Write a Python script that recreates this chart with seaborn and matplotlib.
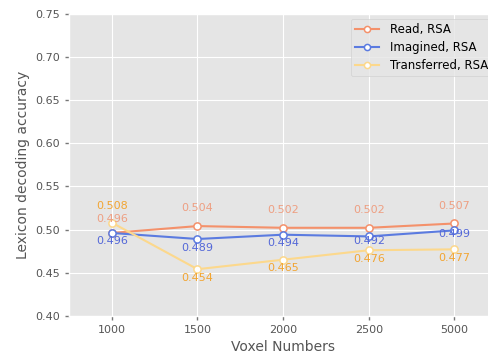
import matplotlib
matplotlib.use("Agg")
import matplotlib.pyplot as plt
import seaborn as sns
import pandas as pd

voxels = ["1000", "1500", "2000", "2500", "5000"]
read_rsa = [0.496, 0.504, 0.502, 0.502, 0.507]
imagined_rsa = [0.496, 0.489, 0.494, 0.492, 0.499]
transferred_rsa = [0.508, 0.454, 0.465, 0.476, 0.477]

series = [
    ("Read, RSA", read_rsa, "#F4916B", "#EE9F82", [9.7, 13, 12.5, 12.5, 12.5]),
    ("Imagined, RSA", imagined_rsa, "#5B7BE0", "#5468D8", [-5.9, -6.3, -5.9, -3.2, -2.9]),
    ("Transferred, RSA", transferred_rsa, "#FCD88C", "#F2A532", [12.2, -6.3, -6.3, -6.3, -6.3]),
]

plt.style.use("ggplot")
fig = plt.figure(figsize=(4.89, 3.56), dpi=100)
ax = fig.add_axes([0.141, 0.113, 0.876, 0.848])

for name, vals, color, txt_color, offs in series:
    df = pd.DataFrame({"voxels": voxels, "acc": vals})
    sns.lineplot(data=df, x="voxels", y="acc", sort=False, ax=ax, label=name,
                 color=color, marker="o", markersize=5.2, linewidth=1.5,
                 markerfacecolor="white", markeredgecolor=color, markeredgewidth=1.1)
    for i, v in enumerate(vals):
        ax.annotate(f"{v:.3f}", (i, v), xytext=(0, offs[i]), textcoords="offset points",
                    ha="center", va="center", fontsize=8, color=txt_color)

ax.set_xlim(-0.5, 4.5)
ax.set_ylim(0.40, 0.75)
ax.set_yticks([0.40, 0.45, 0.50, 0.55, 0.60, 0.65, 0.70, 0.75])
ax.tick_params(labelsize=8, labelcolor="#555555", color="#777777",
               length=3, width=1, direction="out")
ax.set_xlabel("Voxel Numbers", fontsize=10, color="#555555")
ax.set_ylabel("Lexicon decoding accuracy", fontsize=10, color="#555555")
ax.legend(loc="upper right", fontsize=8.5, labelspacing=0.4, handlelength=2.0,
          handletextpad=0.9, markerscale=0.85, borderaxespad=0.4)

fig.savefig("out.png", dpi=100)
